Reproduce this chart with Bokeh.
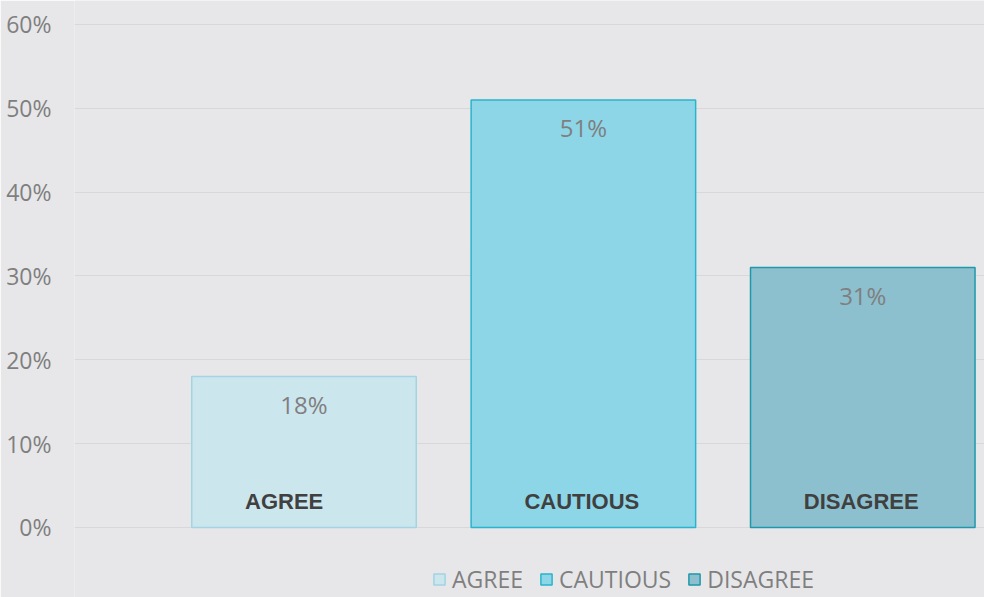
from bokeh.plotting import figure
from bokeh.models import ColumnDataSource, Range1d, FixedTicker, Legend, LegendItem
from bokeh.core.properties import value
from bokeh.embed import file_html
from bokeh.resources import INLINE

categories = ["AGREE", "CAUTIOUS", "DISAGREE"]
values = [18, 51, 31]
value_labels = ["18%", "51%", "31%"]
positions = [1, 2, 3]
fill_colors = ["#cce6ee", "#8dd6e8", "#8dc0cf"]
line_colors = ["#a2d4e1", "#2ab4cb", "#1f98aa"]
y_ticks = [0, 10, 20, 30, 40, 50, 60]
y_tick_labels = {t: f"{t}%" for t in y_ticks}

BG = "#e7e7ea"
GREY = "#7f7f7f"

p = figure(width=984, height=597, output_backend="svg", toolbar_location=None,
           x_range=Range1d(0.1786, 3.4357), y_range=Range1d(-8.35, 62.86),
           min_border_left=74, min_border_right=0, min_border_top=0, min_border_bottom=0)
p.background_fill_color = BG
p.border_fill_color = BG
p.outline_line_color = None

p.xaxis.visible = False
p.xgrid.visible = False
p.yaxis.ticker = FixedTicker(ticks=y_ticks)
p.yaxis.major_label_overrides = y_tick_labels
p.yaxis.axis_line_color = None
p.yaxis.major_tick_line_color = None
p.yaxis.minor_tick_line_color = None
p.yaxis.major_label_text_font = "Open Sans"
p.yaxis.major_label_text_font_size = "23px"
p.yaxis.major_label_text_color = GREY
p.yaxis.major_label_standoff = 17
p.ygrid.ticker = FixedTicker(ticks=y_ticks)
p.ygrid.grid_line_color = "#d8d8db"
p.ygrid.grid_line_width = 1

src = ColumnDataSource(dict(x=positions, top=values, cat=categories,
                            lab=value_labels, fill=fill_colors, line=line_colors))

bars = p.vbar(x="x", top="top", bottom=0, width=0.8036, source=src,
              fill_color="fill", line_color="line", line_width=1.5)

p.text(x="x", y="top", text="lab", source=src, text_align="center",
       text_baseline="middle", y_offset=28, text_font=value("Open Sans"),
       text_font_size="24px", text_color=GREY)

p.text(x="x", y=0, text="cat", source=src, text_align="left",
       text_baseline="middle", x_offset=-59, y_offset=-26,
       text_font=value("Liberation Sans"),
       text_font_style="bold", text_font_size="22px", text_color="#404040")

items = [LegendItem(label=c, renderers=[bars], index=i) for i, c in enumerate(categories)]
legend = Legend(items=items, orientation="horizontal", location=(358, 2),
                background_fill_alpha=0, border_line_color=None,
                label_text_font="Open Sans", label_text_font_size="23px",
                label_text_color=GREY, glyph_width=14, glyph_height=14,
                label_standoff=6, spacing=16, padding=0, margin=0,
                label_height=24)
p.add_layout(legend)

open("out.html", "w").write(file_html(p, INLINE))
